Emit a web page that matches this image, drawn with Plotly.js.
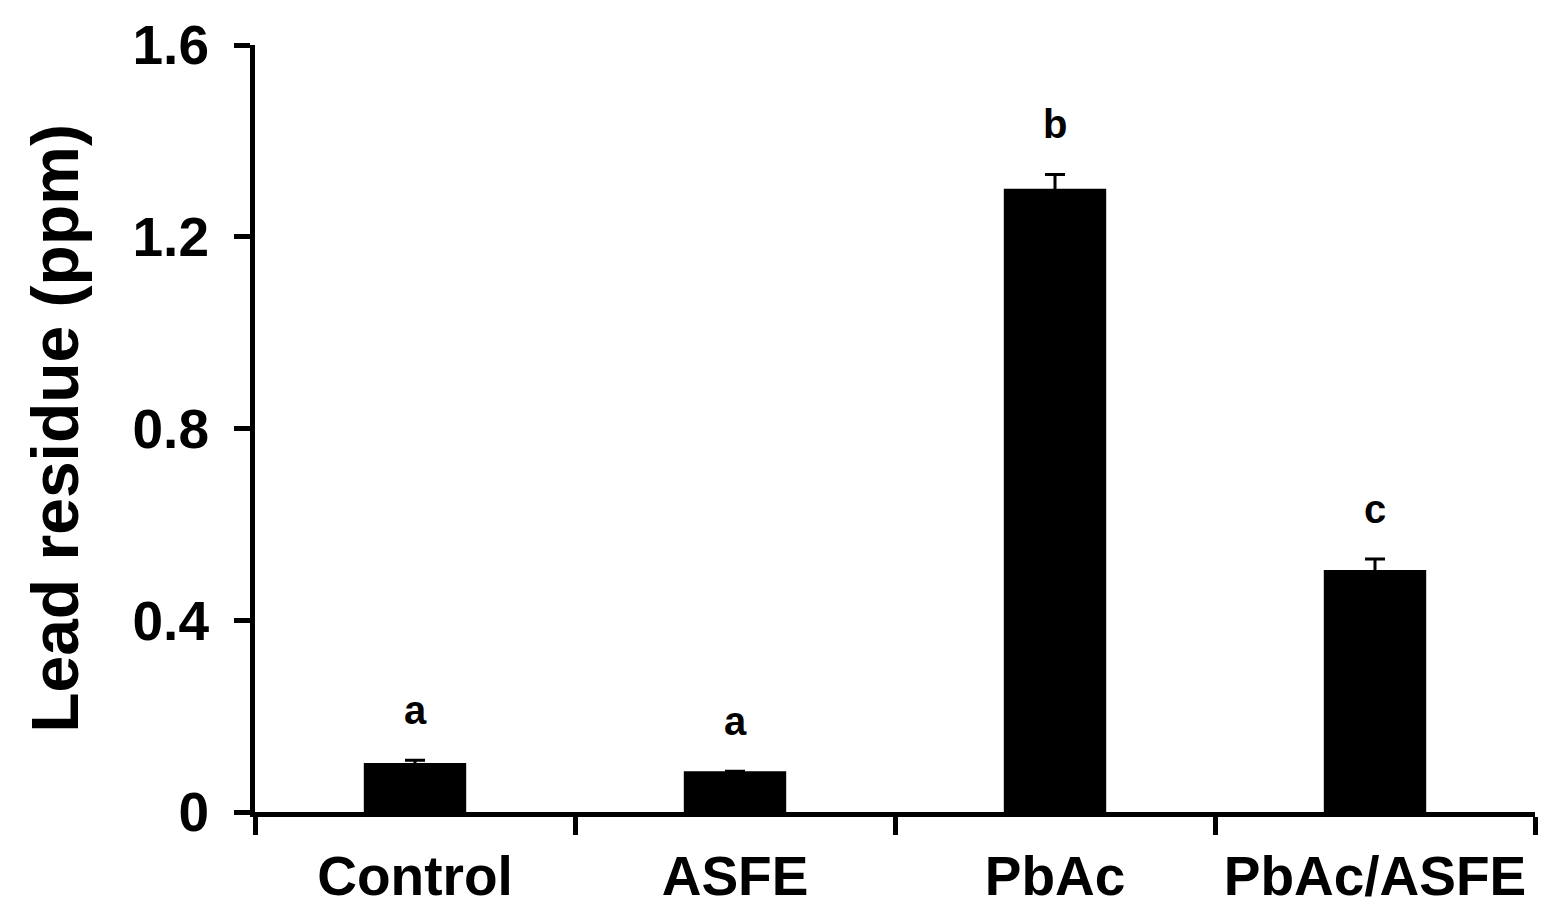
<!DOCTYPE html>
<html>
<head>
<meta charset="utf-8">
<script src="https://cdn.plot.ly/plotly-3.0.1.min.js"></script>
<style>html,body{margin:0;padding:0;background:#fff;}#chart{width:1557px;height:921px;}</style>
</head>
<body>
<div id="chart"></div>
<script>
const categories = ["Control", "ASFE", "PbAc", "PbAc/ASFE"];
const leadResidue = [0.102, 0.085, 1.30, 0.505];
const leadError = [0.006, null, 0.030, 0.023];
const sigLetters = ["a", "a", "b", "c"];
const yTickValues = [0, 0.4, 0.8, 1.2, 1.6];
const yTickLabels = ["0", "0.4", "0.8", "1.2", "1.6"];

const FONT = "Liberation Sans, Arial, sans-serif";

const trace = {
  type: "bar",
  x: categories,
  y: leadResidue,
  width: 0.32,
  marker: {color: "#000000", line: {width: 0}},
  error_y: {type: "data", array: leadError, visible: true, color: "#000000", thickness: 3, width: 10},
  hoverinfo: "x+y"
};

const annotations = categories.map((c, i) => ({
  x: c,
  y: leadResidue[i] + (leadError[i] || 0),
  xref: "x", yref: "y",
  text: sigLetters[i],
  showarrow: false,
  yanchor: "bottom",
  yshift: 26,
  font: {family: FONT, size: 40, color: "#000", weight: 700}
}));

const layout = {
  width: 1557,
  height: 921,
  margin: {l: 255, r: 22, t: 45, b: 109, pad: 0},
  paper_bgcolor: "#ffffff",
  plot_bgcolor: "#ffffff",
  showlegend: false,
  xaxis: {
    type: "category",
    range: [-0.5, 3.5],
    showline: true,
    linecolor: "#000",
    linewidth: 5,
    ticks: "outside",
    tickson: "boundaries",
    ticklen: 18,
    tickwidth: 5,
    tickcolor: "#000",
    showgrid: false,
    zeroline: false,
    ticklabelstandoff: 12,
    tickfont: {family: FONT, size: 55, color: "#000", weight: 700},
    automargin: false
  },
  yaxis: {
    range: [0, 1.6],
    tickvals: yTickValues,
    ticktext: yTickLabels,
    showline: true,
    linecolor: "#000",
    linewidth: 5,
    ticks: "outside",
    ticklen: 16,
    tickwidth: 5,
    tickcolor: "#000",
    showgrid: false,
    zeroline: false,
    ticklabelstandoff: 14,
    tickfont: {family: FONT, size: 55, color: "#000", weight: 700},
    title: {text: "Lead residue (ppm)", standoff: 34, font: {family: FONT, size: 66, color: "#000", weight: 700}},
    automargin: false
  },
  annotations: annotations
};

Plotly.newPlot("chart", [trace], layout, {displayModeBar: false, staticPlot: true});
</script>
</body>
</html>
